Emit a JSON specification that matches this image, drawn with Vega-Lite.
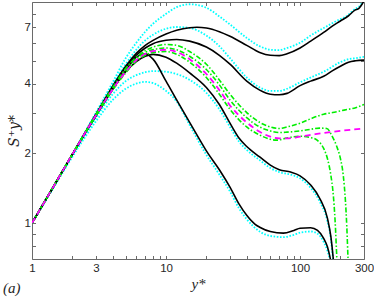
{
  "$schema": "https://vega.github.io/schema/vega-lite/v6.json",
  "width": 332,
  "height": 257,
  "autosize": {"type": "none"},
  "padding": {"left": 32, "top": 2, "right": 10, "bottom": 40},
  "background": "white",
  "config": {"view": {"stroke": null}, "font": "Liberation Sans"},
  "title": {"text": "(a)", "orient": "bottom", "anchor": "start", "frame": "group", "font": "Liberation Serif", "fontStyle": "italic", "fontWeight": "normal", "fontSize": 15, "color": "#262626", "offset": -10, "dx": -29},
  "datasets": {
    "curves": [
      {"c":"c1","s":"cyan","x":1,"y":1},{"c":"c1","s":"cyan","x":1.5,"y":1.49},{"c":"c1","s":"cyan","x":2,"y":1.98},{"c":"c1","s":"cyan","x":3,"y":3.0},{"c":"c1","s":"cyan","x":4,"y":4.05},{"c":"c1","s":"cyan","x":5,"y":5.15},{"c":"c1","s":"cyan","x":6,"y":6.0},{"c":"c1","s":"cyan","x":7,"y":6.7},{"c":"c1","s":"cyan","x":8,"y":7.25},{"c":"c1","s":"cyan","x":10,"y":8.0},{"c":"c1","s":"cyan","x":12,"y":8.55},{"c":"c1","s":"cyan","x":15,"y":8.8},{"c":"c1","s":"cyan","x":20,"y":8.5},{"c":"c1","s":"cyan","x":25,"y":7.8},{"c":"c1","s":"cyan","x":30,"y":7.2},{"c":"c1","s":"cyan","x":40,"y":6.3},{"c":"c1","s":"cyan","x":50,"y":5.8},{"c":"c1","s":"cyan","x":60,"y":5.6},{"c":"c1","s":"cyan","x":70,"y":5.58},{"c":"c1","s":"cyan","x":80,"y":5.7},{"c":"c1","s":"cyan","x":100,"y":6.0},{"c":"c1","s":"cyan","x":120,"y":6.45},{"c":"c1","s":"cyan","x":150,"y":6.95},{"c":"c1","s":"cyan","x":200,"y":7.6},{"c":"c1","s":"cyan","x":225,"y":7.85},{"c":"c1","s":"cyan","x":250,"y":8.3},{"c":"c1","s":"cyan","x":275,"y":8.6},{"c":"c1","s":"cyan","x":300,"y":9.15},

      {"c":"c2","s":"cyan","x":1,"y":1},{"c":"c2","s":"cyan","x":1.5,"y":1.49},{"c":"c2","s":"cyan","x":2,"y":1.98},{"c":"c2","s":"cyan","x":3,"y":2.97},{"c":"c2","s":"cyan","x":4,"y":3.95},{"c":"c2","s":"cyan","x":5,"y":4.85},{"c":"c2","s":"cyan","x":6,"y":5.6},{"c":"c2","s":"cyan","x":7,"y":6.15},{"c":"c2","s":"cyan","x":8,"y":6.5},{"c":"c2","s":"cyan","x":10,"y":6.9},{"c":"c2","s":"cyan","x":12,"y":7.02},{"c":"c2","s":"cyan","x":15,"y":6.95},{"c":"c2","s":"cyan","x":20,"y":6.45},{"c":"c2","s":"cyan","x":25,"y":5.8},{"c":"c2","s":"cyan","x":30,"y":5.15},{"c":"c2","s":"cyan","x":40,"y":4.25},{"c":"c2","s":"cyan","x":50,"y":3.85},{"c":"c2","s":"cyan","x":60,"y":3.72},{"c":"c2","s":"cyan","x":70,"y":3.72},{"c":"c2","s":"cyan","x":80,"y":3.8},{"c":"c2","s":"cyan","x":100,"y":4.05},{"c":"c2","s":"cyan","x":120,"y":4.25},{"c":"c2","s":"cyan","x":150,"y":4.5},{"c":"c2","s":"cyan","x":200,"y":4.95},{"c":"c2","s":"cyan","x":230,"y":5.1},{"c":"c2","s":"cyan","x":260,"y":5.15},{"c":"c2","s":"cyan","x":300,"y":5.22},

      {"c":"c3","s":"cyan","x":1,"y":1},{"c":"c3","s":"cyan","x":1.5,"y":1.48},{"c":"c3","s":"cyan","x":2,"y":1.96},{"c":"c3","s":"cyan","x":3,"y":2.85},{"c":"c3","s":"cyan","x":4,"y":3.6},{"c":"c3","s":"cyan","x":5,"y":4.1},{"c":"c3","s":"cyan","x":6,"y":4.35},{"c":"c3","s":"cyan","x":7,"y":4.48},{"c":"c3","s":"cyan","x":8,"y":4.53},{"c":"c3","s":"cyan","x":10,"y":4.5},{"c":"c3","s":"cyan","x":12,"y":4.4},{"c":"c3","s":"cyan","x":15,"y":4.15},{"c":"c3","s":"cyan","x":20,"y":3.65},{"c":"c3","s":"cyan","x":25,"y":3.1},{"c":"c3","s":"cyan","x":30,"y":2.6},{"c":"c3","s":"cyan","x":35,"y":2.25},{"c":"c3","s":"cyan","x":40,"y":2.07},{"c":"c3","s":"cyan","x":50,"y":1.87},{"c":"c3","s":"cyan","x":60,"y":1.73},{"c":"c3","s":"cyan","x":70,"y":1.66},{"c":"c3","s":"cyan","x":85,"y":1.62},{"c":"c3","s":"cyan","x":100,"y":1.56},{"c":"c3","s":"cyan","x":120,"y":1.42},{"c":"c3","s":"cyan","x":140,"y":1.24},{"c":"c3","s":"cyan","x":160,"y":1.02},{"c":"c3","s":"cyan","x":170,"y":0.85},{"c":"c3","s":"cyan","x":177,"y":0.68},{"c":"c3","s":"cyan","x":183,"y":0.55},

      {"c":"c4","s":"cyan","x":1,"y":1},{"c":"c4","s":"cyan","x":1.5,"y":1.47},{"c":"c4","s":"cyan","x":2,"y":1.93},{"c":"c4","s":"cyan","x":3,"y":2.75},{"c":"c4","s":"cyan","x":4,"y":3.4},{"c":"c4","s":"cyan","x":5,"y":3.8},{"c":"c4","s":"cyan","x":6,"y":4.0},{"c":"c4","s":"cyan","x":7,"y":4.07},{"c":"c4","s":"cyan","x":8,"y":4.02},{"c":"c4","s":"cyan","x":10,"y":3.72},{"c":"c4","s":"cyan","x":12,"y":3.35},{"c":"c4","s":"cyan","x":15,"y":2.65},{"c":"c4","s":"cyan","x":20,"y":1.97},{"c":"c4","s":"cyan","x":25,"y":1.62},{"c":"c4","s":"cyan","x":30,"y":1.37},{"c":"c4","s":"cyan","x":35,"y":1.16},{"c":"c4","s":"cyan","x":40,"y":1.04},{"c":"c4","s":"cyan","x":50,"y":0.92},{"c":"c4","s":"cyan","x":60,"y":0.88},{"c":"c4","s":"cyan","x":75,"y":0.87},{"c":"c4","s":"cyan","x":90,"y":0.89},{"c":"c4","s":"cyan","x":100,"y":0.91},{"c":"c4","s":"cyan","x":120,"y":0.92},{"c":"c4","s":"cyan","x":135,"y":0.9},{"c":"c4","s":"cyan","x":150,"y":0.83},{"c":"c4","s":"cyan","x":160,"y":0.76},{"c":"c4","s":"cyan","x":170,"y":0.66},{"c":"c4","s":"cyan","x":180,"y":0.53},

      {"c":"b1","s":"black","x":1,"y":1},{"c":"b1","s":"black","x":1.5,"y":1.49},{"c":"b1","s":"black","x":2,"y":1.98},{"c":"b1","s":"black","x":3,"y":2.95},{"c":"b1","s":"black","x":4,"y":3.9},{"c":"b1","s":"black","x":5,"y":4.75},{"c":"b1","s":"black","x":6,"y":5.4},{"c":"b1","s":"black","x":7,"y":5.85},{"c":"b1","s":"black","x":8,"y":6.15},{"c":"b1","s":"black","x":10,"y":6.55},{"c":"b1","s":"black","x":12,"y":6.8},{"c":"b1","s":"black","x":15,"y":6.97},{"c":"b1","s":"black","x":17,"y":7.0},{"c":"b1","s":"black","x":20,"y":6.95},{"c":"b1","s":"black","x":25,"y":6.7},{"c":"b1","s":"black","x":30,"y":6.4},{"c":"b1","s":"black","x":40,"y":5.85},{"c":"b1","s":"black","x":50,"y":5.45},{"c":"b1","s":"black","x":60,"y":5.3},{"c":"b1","s":"black","x":70,"y":5.28},{"c":"b1","s":"black","x":80,"y":5.38},{"c":"b1","s":"black","x":100,"y":5.7},{"c":"b1","s":"black","x":120,"y":6.1},{"c":"b1","s":"black","x":150,"y":6.65},{"c":"b1","s":"black","x":175,"y":7.1},{"c":"b1","s":"black","x":200,"y":7.45},{"c":"b1","s":"black","x":230,"y":7.85},{"c":"b1","s":"black","x":257,"y":8.3},{"c":"b1","s":"black","x":275,"y":8.45},{"c":"b1","s":"black","x":290,"y":8.8},{"c":"b1","s":"black","x":300,"y":9.1},

      {"c":"b2","s":"black","x":1,"y":1},{"c":"b2","s":"black","x":1.5,"y":1.49},{"c":"b2","s":"black","x":2,"y":1.98},{"c":"b2","s":"black","x":3,"y":2.93},{"c":"b2","s":"black","x":4,"y":3.85},{"c":"b2","s":"black","x":5,"y":4.7},{"c":"b2","s":"black","x":6,"y":5.3},{"c":"b2","s":"black","x":7,"y":5.7},{"c":"b2","s":"black","x":8,"y":5.95},{"c":"b2","s":"black","x":10,"y":6.15},{"c":"b2","s":"black","x":12,"y":6.2},{"c":"b2","s":"black","x":15,"y":6.1},{"c":"b2","s":"black","x":20,"y":5.75},{"c":"b2","s":"black","x":25,"y":5.3},{"c":"b2","s":"black","x":30,"y":4.85},{"c":"b2","s":"black","x":40,"y":4.1},{"c":"b2","s":"black","x":50,"y":3.75},{"c":"b2","s":"black","x":60,"y":3.6},{"c":"b2","s":"black","x":70,"y":3.58},{"c":"b2","s":"black","x":80,"y":3.63},{"c":"b2","s":"black","x":100,"y":3.92},{"c":"b2","s":"black","x":120,"y":4.1},{"c":"b2","s":"black","x":150,"y":4.3},{"c":"b2","s":"black","x":175,"y":4.55},{"c":"b2","s":"black","x":200,"y":4.75},{"c":"b2","s":"black","x":230,"y":4.95},{"c":"b2","s":"black","x":260,"y":5.02},{"c":"b2","s":"black","x":300,"y":5.05},

      {"c":"b3","s":"black","x":1,"y":1},{"c":"b3","s":"black","x":1.5,"y":1.49},{"c":"b3","s":"black","x":2,"y":1.98},{"c":"b3","s":"black","x":3,"y":2.92},{"c":"b3","s":"black","x":4,"y":3.8},{"c":"b3","s":"black","x":5,"y":4.5},{"c":"b3","s":"black","x":6,"y":4.98},{"c":"b3","s":"black","x":7,"y":5.25},{"c":"b3","s":"black","x":8,"y":5.35},{"c":"b3","s":"black","x":10,"y":5.2},{"c":"b3","s":"black","x":12,"y":4.9},{"c":"b3","s":"black","x":15,"y":4.45},{"c":"b3","s":"black","x":20,"y":3.85},{"c":"b3","s":"black","x":25,"y":3.25},{"c":"b3","s":"black","x":30,"y":2.7},{"c":"b3","s":"black","x":35,"y":2.33},{"c":"b3","s":"black","x":40,"y":2.14},{"c":"b3","s":"black","x":50,"y":1.93},{"c":"b3","s":"black","x":60,"y":1.78},{"c":"b3","s":"black","x":70,"y":1.7},{"c":"b3","s":"black","x":85,"y":1.66},{"c":"b3","s":"black","x":100,"y":1.6},{"c":"b3","s":"black","x":120,"y":1.46},{"c":"b3","s":"black","x":140,"y":1.28},{"c":"b3","s":"black","x":160,"y":1.05},{"c":"b3","s":"black","x":170,"y":0.87},{"c":"b3","s":"black","x":177,"y":0.7},{"c":"b3","s":"black","x":183,"y":0.55},

      {"c":"b4","s":"black","x":1,"y":1},{"c":"b4","s":"black","x":1.5,"y":1.49},{"c":"b4","s":"black","x":2,"y":1.98},{"c":"b4","s":"black","x":3,"y":2.9},{"c":"b4","s":"black","x":4,"y":3.78},{"c":"b4","s":"black","x":5,"y":4.55},{"c":"b4","s":"black","x":6,"y":5.2},{"c":"b4","s":"black","x":7,"y":5.38},{"c":"b4","s":"black","x":8,"y":5.1},{"c":"b4","s":"black","x":10,"y":4.1},{"c":"b4","s":"black","x":12,"y":3.4},{"c":"b4","s":"black","x":15,"y":2.72},{"c":"b4","s":"black","x":18,"y":2.27},{"c":"b4","s":"black","x":20,"y":2.05},{"c":"b4","s":"black","x":25,"y":1.7},{"c":"b4","s":"black","x":30,"y":1.43},{"c":"b4","s":"black","x":35,"y":1.21},{"c":"b4","s":"black","x":40,"y":1.08},{"c":"b4","s":"black","x":46,"y":0.99},{"c":"b4","s":"black","x":50,"y":0.96},{"c":"b4","s":"black","x":60,"y":0.92},{"c":"b4","s":"black","x":75,"y":0.905},{"c":"b4","s":"black","x":90,"y":0.93},{"c":"b4","s":"black","x":100,"y":0.95},{"c":"b4","s":"black","x":120,"y":0.955},{"c":"b4","s":"black","x":135,"y":0.93},{"c":"b4","s":"black","x":150,"y":0.86},{"c":"b4","s":"black","x":160,"y":0.79},{"c":"b4","s":"black","x":170,"y":0.68},{"c":"b4","s":"black","x":180,"y":0.55},

      {"c":"g1","s":"green","x":1,"y":1},{"c":"g1","s":"green","x":1.5,"y":1.49},{"c":"g1","s":"green","x":2,"y":1.98},{"c":"g1","s":"green","x":3,"y":2.95},{"c":"g1","s":"green","x":4,"y":3.85},{"c":"g1","s":"green","x":5,"y":4.65},{"c":"g1","s":"green","x":6,"y":5.2},{"c":"g1","s":"green","x":7,"y":5.55},{"c":"g1","s":"green","x":8,"y":5.75},{"c":"g1","s":"green","x":10,"y":5.9},{"c":"g1","s":"green","x":12,"y":5.85},{"c":"g1","s":"green","x":15,"y":5.5},{"c":"g1","s":"green","x":20,"y":4.85},{"c":"g1","s":"green","x":25,"y":4.15},{"c":"g1","s":"green","x":30,"y":3.6},{"c":"g1","s":"green","x":40,"y":3.0},{"c":"g1","s":"green","x":50,"y":2.72},{"c":"g1","s":"green","x":60,"y":2.6},{"c":"g1","s":"green","x":70,"y":2.56},{"c":"g1","s":"green","x":80,"y":2.6},{"c":"g1","s":"green","x":100,"y":2.7},{"c":"g1","s":"green","x":120,"y":2.82},{"c":"g1","s":"green","x":150,"y":2.95},{"c":"g1","s":"green","x":175,"y":3.0},{"c":"g1","s":"green","x":200,"y":3.05},{"c":"g1","s":"green","x":230,"y":3.1},{"c":"g1","s":"green","x":260,"y":3.15},{"c":"g1","s":"green","x":300,"y":3.25},

      {"c":"g2","s":"green","x":1,"y":1},{"c":"g2","s":"green","x":1.5,"y":1.49},{"c":"g2","s":"green","x":2,"y":1.98},{"c":"g2","s":"green","x":3,"y":2.9},{"c":"g2","s":"green","x":4,"y":3.75},{"c":"g2","s":"green","x":5,"y":4.45},{"c":"g2","s":"green","x":6,"y":5.0},{"c":"g2","s":"green","x":7,"y":5.3},{"c":"g2","s":"green","x":8,"y":5.45},{"c":"g2","s":"green","x":10,"y":5.5},{"c":"g2","s":"green","x":12,"y":5.35},{"c":"g2","s":"green","x":15,"y":4.95},{"c":"g2","s":"green","x":20,"y":4.25},{"c":"g2","s":"green","x":25,"y":3.6},{"c":"g2","s":"green","x":30,"y":3.1},{"c":"g2","s":"green","x":40,"y":2.6},{"c":"g2","s":"green","x":50,"y":2.4},{"c":"g2","s":"green","x":60,"y":2.3},{"c":"g2","s":"green","x":67,"y":2.28},{"c":"g2","s":"green","x":80,"y":2.33},{"c":"g2","s":"green","x":100,"y":2.37},{"c":"g2","s":"green","x":120,"y":2.34},{"c":"g2","s":"green","x":134,"y":2.28},{"c":"g2","s":"green","x":150,"y":2.1},{"c":"g2","s":"green","x":160,"y":1.9},{"c":"g2","s":"green","x":170,"y":1.6},{"c":"g2","s":"green","x":176,"y":1.37},{"c":"g2","s":"green","x":183,"y":1.0},{"c":"g2","s":"green","x":188,"y":0.71},{"c":"g2","s":"green","x":192,"y":0.55},

      {"c":"g3","s":"green","x":1,"y":1},{"c":"g3","s":"green","x":1.5,"y":1.49},{"c":"g3","s":"green","x":2,"y":1.98},{"c":"g3","s":"green","x":3,"y":2.93},{"c":"g3","s":"green","x":4,"y":3.8},{"c":"g3","s":"green","x":5,"y":4.55},{"c":"g3","s":"green","x":6,"y":5.1},{"c":"g3","s":"green","x":7,"y":5.45},{"c":"g3","s":"green","x":8,"y":5.6},{"c":"g3","s":"green","x":10,"y":5.7},{"c":"g3","s":"green","x":12,"y":5.6},{"c":"g3","s":"green","x":15,"y":5.25},{"c":"g3","s":"green","x":20,"y":4.6},{"c":"g3","s":"green","x":25,"y":3.95},{"c":"g3","s":"green","x":30,"y":3.4},{"c":"g3","s":"green","x":40,"y":2.85},{"c":"g3","s":"green","x":50,"y":2.6},{"c":"g3","s":"green","x":60,"y":2.5},{"c":"g3","s":"green","x":70,"y":2.46},{"c":"g3","s":"green","x":80,"y":2.47},{"c":"g3","s":"green","x":100,"y":2.5},{"c":"g3","s":"green","x":120,"y":2.54},{"c":"g3","s":"green","x":140,"y":2.57},{"c":"g3","s":"green","x":158,"y":2.56},{"c":"g3","s":"green","x":175,"y":2.35},{"c":"g3","s":"green","x":188,"y":2.14},{"c":"g3","s":"green","x":200,"y":1.9},{"c":"g3","s":"green","x":210,"y":1.61},{"c":"g3","s":"green","x":218,"y":1.25},{"c":"g3","s":"green","x":223,"y":0.98},{"c":"g3","s":"green","x":228,"y":0.7},{"c":"g3","s":"green","x":232,"y":0.55},

      {"c":"m1","s":"magenta","x":1,"y":1},{"c":"m1","s":"magenta","x":1.5,"y":1.49},{"c":"m1","s":"magenta","x":2,"y":1.98},{"c":"m1","s":"magenta","x":3,"y":2.92},{"c":"m1","s":"magenta","x":4,"y":3.78},{"c":"m1","s":"magenta","x":5,"y":4.5},{"c":"m1","s":"magenta","x":6,"y":5.05},{"c":"m1","s":"magenta","x":7,"y":5.38},{"c":"m1","s":"magenta","x":8,"y":5.52},{"c":"m1","s":"magenta","x":10,"y":5.6},{"c":"m1","s":"magenta","x":12,"y":5.48},{"c":"m1","s":"magenta","x":15,"y":5.1},{"c":"m1","s":"magenta","x":20,"y":4.4},{"c":"m1","s":"magenta","x":25,"y":3.75},{"c":"m1","s":"magenta","x":30,"y":3.22},{"c":"m1","s":"magenta","x":40,"y":2.72},{"c":"m1","s":"magenta","x":50,"y":2.48},{"c":"m1","s":"magenta","x":60,"y":2.36},{"c":"m1","s":"magenta","x":70,"y":2.32},{"c":"m1","s":"magenta","x":80,"y":2.32},{"c":"m1","s":"magenta","x":100,"y":2.36},{"c":"m1","s":"magenta","x":130,"y":2.42},{"c":"m1","s":"magenta","x":200,"y":2.5},{"c":"m1","s":"magenta","x":300,"y":2.56}
    ]
  },
  "data": {"name": "curves"},
  "resolve": {"axis": {"x": "independent", "y": "independent"}},
  "layer": [
    {
      "transform": [{"filter": "datum.s === 'cyan'"}],
      "mark": {"type": "line", "color": "#00FFFF", "strokeDash": [1.6, 1.6], "strokeWidth": 1.8, "clip": true, "interpolate": "monotone"},
      "encoding": {
        "x": {"field": "x", "type": "quantitative", "scale": {"type": "log", "domain": [1, 300]},
          "axis": {"orient": "bottom", "values": [1,2,3,4,5,6,7,8,9,10,20,30,40,50,60,70,80,90,100,200,300],
            "labelExpr": "indexof([1,3,10,100,300], datum.value) >= 0 ? datum.value + '' : ''",
            "tickSize": -3.5, "grid": false, "labelFontSize": 11.5, "labelColor": "#262626", "labelPadding": 7,
            "labelFlush": false, "labelOverlap": false, "domainColor": "#6a6a6a", "tickColor": "#6a6a6a",
            "title": "y*", "titleFont": "Liberation Serif", "titleFontStyle": "italic", "titleFontWeight": "normal", "titleFontSize": 15, "titleColor": "#262626", "titlePadding": 2}},
        "y": {"field": "y", "type": "quantitative", "scale": {"type": "log", "domain": [0.7, 9]},
          "axis": {"orient": "left", "values": [0.8,0.9,1,2,3,4,5,6,7,8],
            "labelExpr": "indexof([1,2,4,7], datum.value) >= 0 ? datum.value + '' : ''",
            "tickSize": -3.5, "grid": false, "labelFontSize": 11.5, "labelColor": "#262626", "labelPadding": 5,
            "labelFlush": false, "labelOverlap": false, "domainColor": "#6a6a6a", "tickColor": "#6a6a6a",
            "title": "S⁺y*", "titleFont": "DejaVu Serif", "titleFontStyle": "italic", "titleFontWeight": "normal", "titleFontSize": 14, "titleColor": "#262626", "titlePadding": 3}},
        "detail": {"field": "c"}
      }
    },
    {
      "transform": [{"filter": "datum.s === 'black'"}],
      "mark": {"type": "line", "color": "#000000", "strokeWidth": 1.6, "clip": true, "interpolate": "monotone"},
      "encoding": {
        "x": {"field": "x", "type": "quantitative", "scale": {"type": "log", "domain": [1, 300]},
          "axis": {"orient": "top", "values": [1,2,3,4,5,6,7,8,9,10,20,30,40,50,60,70,80,90,100,200,300], "labels": false, "title": null,
            "tickSize": -3.5, "grid": false, "domainColor": "#6a6a6a", "tickColor": "#6a6a6a"}},
        "y": {"field": "y", "type": "quantitative", "scale": {"type": "log", "domain": [0.7, 9]},
          "axis": {"orient": "right", "values": [0.8,0.9,1,2,3,4,5,6,7,8], "labels": false, "title": null,
            "tickSize": -3.5, "grid": false, "domainColor": "#6a6a6a", "tickColor": "#6a6a6a"}},
        "detail": {"field": "c"}
      }
    },
    {
      "transform": [{"filter": "datum.s === 'green'"}],
      "mark": {"type": "line", "color": "#00EE00", "strokeDash": [5, 2, 1.5, 2], "strokeWidth": 1.6, "clip": true, "interpolate": "monotone"},
      "encoding": {
        "x": {"field": "x", "type": "quantitative", "scale": {"type": "log", "domain": [1, 300]}, "axis": null},
        "y": {"field": "y", "type": "quantitative", "scale": {"type": "log", "domain": [0.7, 9]}, "axis": null},
        "detail": {"field": "c"}
      }
    },
    {
      "transform": [{"filter": "datum.s === 'magenta'"}],
      "mark": {"type": "line", "color": "#FF00FF", "strokeDash": [6, 4], "strokeWidth": 1.8, "clip": true, "interpolate": "monotone"},
      "encoding": {
        "x": {"field": "x", "type": "quantitative", "scale": {"type": "log", "domain": [1, 300]}, "axis": null},
        "y": {"field": "y", "type": "quantitative", "scale": {"type": "log", "domain": [0.7, 9]}, "axis": null},
        "detail": {"field": "c"}
      }
    }
  ]
}
